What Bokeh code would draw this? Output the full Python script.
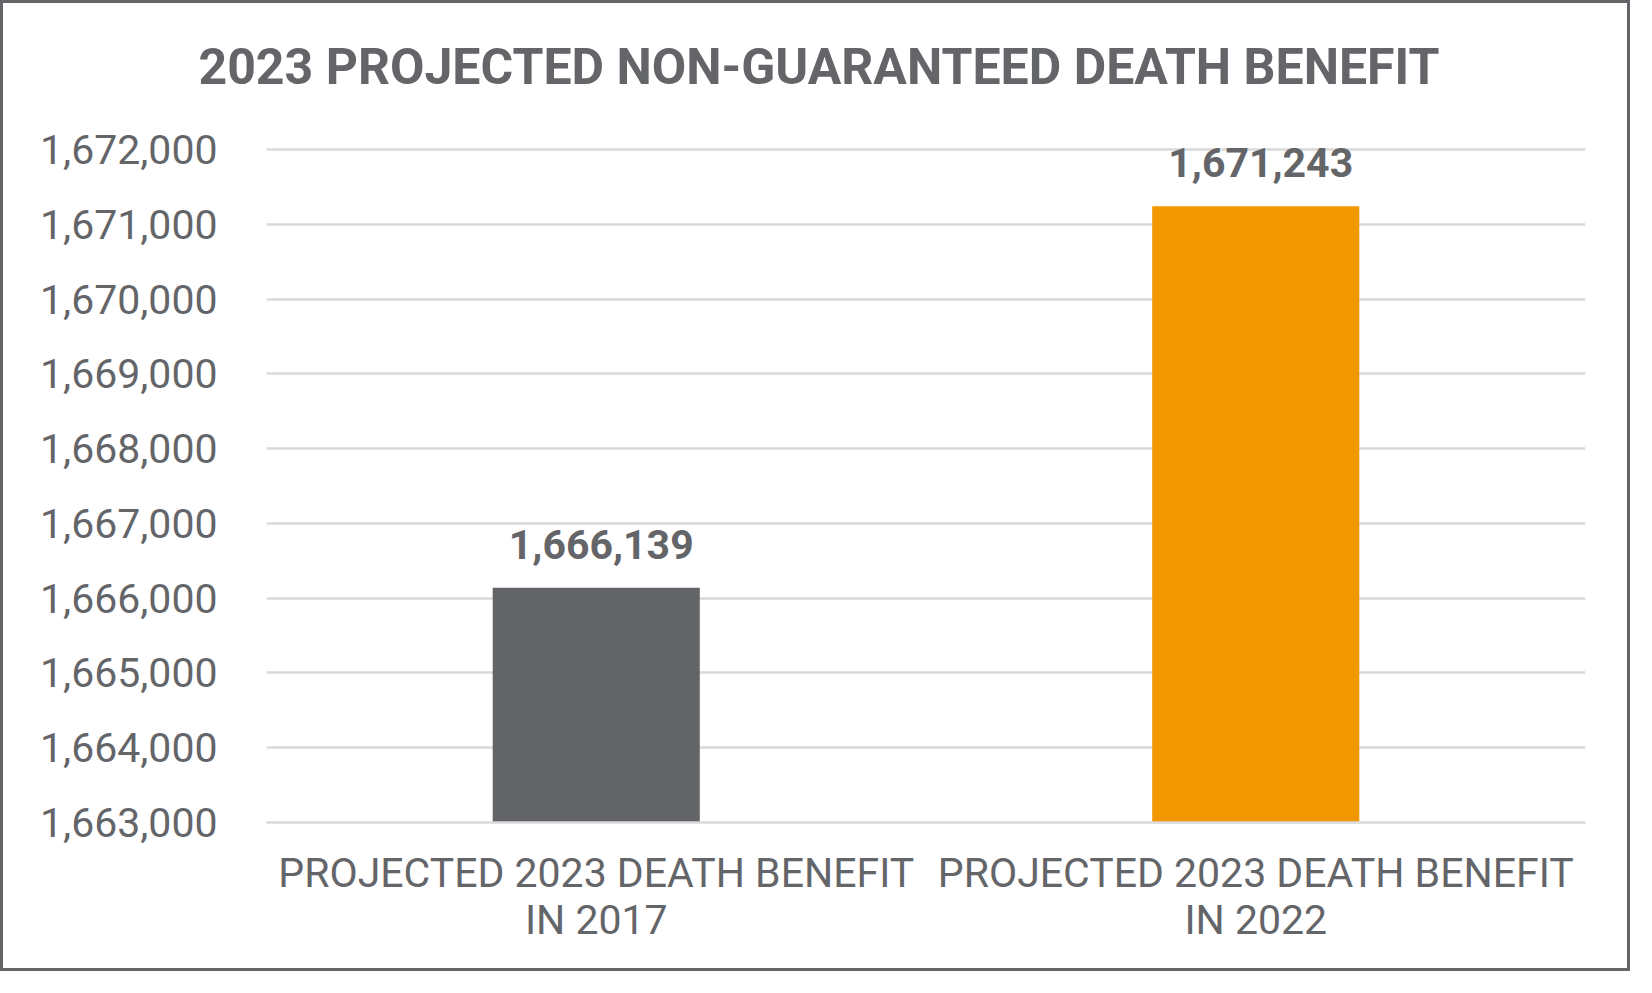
from bokeh.plotting import figure
from bokeh.models import ColumnDataSource, FactorRange, Range1d, FixedTicker, NumeralTickFormatter, LabelSet, Title
from bokeh.core.properties import value
from bokeh.embed import file_html
from bokeh.resources import INLINE

categories = ["PROJECTED 2023 DEATH BENEFIT\nIN 2017", "PROJECTED 2023 DEATH BENEFIT\nIN 2022"]
values = [1666139, 1671243]
bar_colors = ["#636467", "#F39700"]
value_labels = ["1,666,139", "1,671,243"]
y_ticks = [1663000, 1664000, 1665000, 1666000, 1667000, 1668000, 1669000, 1670000, 1671000, 1672000]
title_text = "2023 PROJECTED NON-GUARANTEED DEATH BENEFIT"

TEXT = "#646569"
FONT = "Roboto"

W, H = 1630, 971
BL, BR, BT, BB = 263, 48, 144, 152
TOP_PAD = 30  # small headroom so the top gridline is drawn

src = ColumnDataSource(dict(cat=categories, val=values, color=bar_colors, lab=value_labels))

p = figure(width=W, height=H, x_range=FactorRange(*categories, range_padding=0),
           y_range=Range1d(y_ticks[0], y_ticks[-1] + TOP_PAD),
           output_backend="svg", toolbar_location=None)

p.min_border_left = BL
p.min_border_right = BR
p.min_border_top = BT
p.min_border_bottom = BB

p.styles = {"border": "3px solid #646569"}

# spacer between the frame and the title (nearest the frame)
spacer = Title(text=" ", text_font_size="1px", standoff=44, text_color="white")
p.add_layout(spacer, "above")
# the chart title, shifted left so it is centred on the whole canvas
main_title = Title(text=title_text, align="left", offset=-68, standoff=10,
                   text_font=FONT, text_font_size="50px", text_font_style="bold", text_color=TEXT)
p.add_layout(main_title, "above")

p.vbar(x="cat", top="val", bottom=y_ticks[0], width=0.314, fill_color="color", line_color=None, source=src)

labels = LabelSet(x="cat", y="val", text="lab", source=src, text_align="center", text_baseline="alphabetic",
                  y_offset=29, x_offset=5, text_font=value(FONT), text_font_size=value("41px"),
                  text_font_style=value("bold"), text_color=value(TEXT))
p.add_layout(labels)

p.outline_line_color = None
p.background_fill_color = "white"
p.border_fill_color = "white"

p.xgrid.grid_line_color = None
p.ygrid.grid_line_color = "#d9d9d9"
p.ygrid.grid_line_width = 2.5

p.yaxis.ticker = FixedTicker(ticks=y_ticks)
p.yaxis.formatter = NumeralTickFormatter(format="0,0")
p.yaxis.axis_line_color = None
p.yaxis.major_tick_line_color = None
p.yaxis.minor_tick_line_color = None
p.yaxis.major_label_standoff = 43
p.yaxis.major_label_text_font = FONT
p.yaxis.major_label_text_font_size = "41px"
p.yaxis.major_label_text_color = TEXT

p.xaxis.axis_line_color = "#d9d9d9"
p.xaxis.axis_line_width = 2.5
p.xaxis.major_tick_line_color = None
p.xaxis.minor_tick_line_color = None
p.xaxis.major_label_standoff = 20
p.xaxis.major_label_text_font = FONT
p.xaxis.major_label_text_font_size = "41px"
p.xaxis.major_label_text_color = TEXT
p.xaxis.major_label_text_line_height = 0.98

open("out.html", "w").write(file_html(p, INLINE))
